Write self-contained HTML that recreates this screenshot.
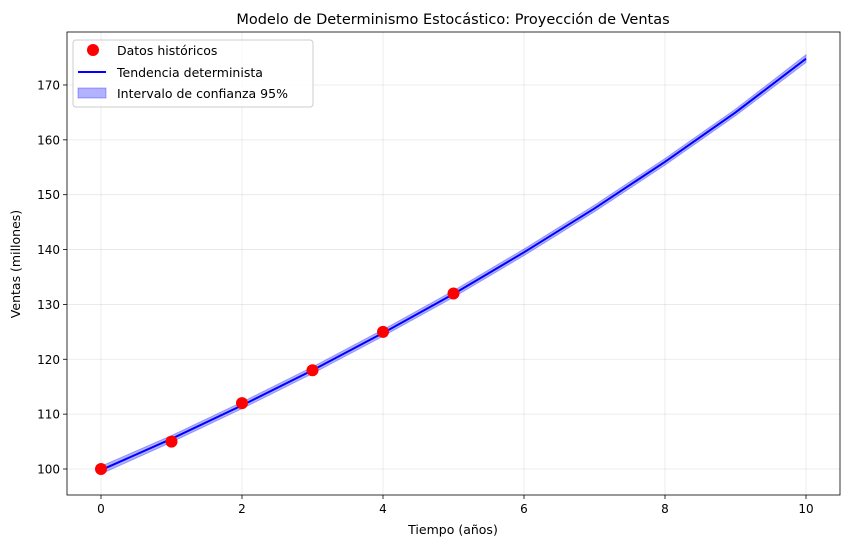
<!DOCTYPE html>
<html><head><meta charset="utf-8"><style>
body{margin:0;background:#fff;font-family:"Liberation Sans","DejaVu Sans",sans-serif}
svg text{font-family:"DejaVu Sans","Liberation Sans",sans-serif}
</style></head><body>
<svg id="chart" width="850" height="548">
</svg>
<script>
const histX=[0,1,2,3,4,5];
const histY=[100,105,112,118,125,132];
const trendX=[0,1,2,3,4,5,6,7,8,9,10];
const trendY=[99.8,105.5,111.6,118.0,124.8,131.9,139.5,147.5,156.0,165.0,174.8];
const bandHalf=[0.7,0.6,0.6,0.6,0.6,0.6,0.6,0.6,0.6,0.6,0.7];
const xTicks=[0,2,4,6,8,10];
const yTicks=[100,110,120,130,140,150,160,170];
const NS="http://www.w3.org/2000/svg";
const svg=document.getElementById('chart');
const L=67,R=840,T=32,B=495;
const sx=v=>101+v*70.5;
const sy=v=>469-(v-100)*5.486;
function mk(t,a,parent){const e=document.createElementNS(NS,t);for(const k in a)e.setAttribute(k,a[k]);(parent||svg).appendChild(e);return e;}
xTicks.forEach(v=>{const g=mk('line',{x1:sx(v),x2:sx(v),y1:T,y2:B,stroke:'#b0b0b0','stroke-opacity':0.3,'stroke-width':0.8});

});
yTicks.forEach(v=>{const g=mk('line',{x1:L,x2:R,y1:sy(v),y2:sy(v),stroke:'#b0b0b0','stroke-opacity':0.3,'stroke-width':0.8});

});
let up=trendX.map((x,i)=>sx(x)+','+sy(trendY[i]+bandHalf[i]));
let lo=trendX.map((x,i)=>sx(x)+','+sy(trendY[i]-bandHalf[i])).reverse();
const band=mk('polygon',{points:up.concat(lo).join(' '),fill:'#0000ff','fill-opacity':0.3,stroke:'#0000ff','stroke-opacity':0.3});


const line=mk('polyline',{points:trendX.map((x,i)=>sx(x)+','+sy(trendY[i])).join(' '),fill:'none',stroke:'#0000ff','stroke-width':2});


histX.forEach((x,i)=>{const c=mk('circle',{cx:sx(x),cy:sy(histY[i]),r:6,fill:'#ff0000'});

});
const fr=mk('rect',{x:L,y:T,width:R-L,height:B-T,fill:'none',stroke:'#000','stroke-width':0.8});


xTicks.forEach(v=>{mk('line',{x1:sx(v),x2:sx(v),y1:B,y2:B+4,stroke:'#000','stroke-width':0.8});
const t=mk('text',{x:sx(v),y:B+18,'text-anchor':'middle','font-size':12});t.textContent=v;

});
yTicks.forEach(v=>{mk('line',{x1:L-4,x2:L,y1:sy(v),y2:sy(v),stroke:'#000','stroke-width':0.8});
const t=mk('text',{x:L-7,y:sy(v)+4.5,'text-anchor':'end','font-size':12});t.textContent=v;

});
</script>
<svg width="850" height="548" style="position:absolute;left:0;top:0">
<text x="453" y="24" text-anchor="middle" font-size="14.5">Modelo de Determinismo Estocástico: Proyección de Ventas</text>
<text x="453" y="534" text-anchor="middle" font-size="12.5">Tiempo (años)</text>
<text x="20" y="264" text-anchor="middle" font-size="12.5" transform="rotate(-90 20 264)">Ventas (millones)</text>
<g>
<rect x="73" y="40" width="240" height="67" rx="3" fill="#fff" fill-opacity="0.8" stroke="#ccc"/>
<circle cx="93" cy="50" r="6" fill="#ff0000"/>
<text x="117" y="55" font-size="12.5">Datos históricos</text>
<line x1="78" x2="106" y1="72" y2="72" stroke="#0000ff" stroke-width="2"/>
<text x="117" y="77" font-size="12.5">Tendencia determinista</text>
<rect x="78" y="88" width="28" height="10" fill="#0000ff" fill-opacity="0.3" stroke="#0000ff" stroke-opacity="0.3"/>
<text x="117" y="98" font-size="12.5">Intervalo de confianza 95%</text>
</g>
</svg>
</body></html>
